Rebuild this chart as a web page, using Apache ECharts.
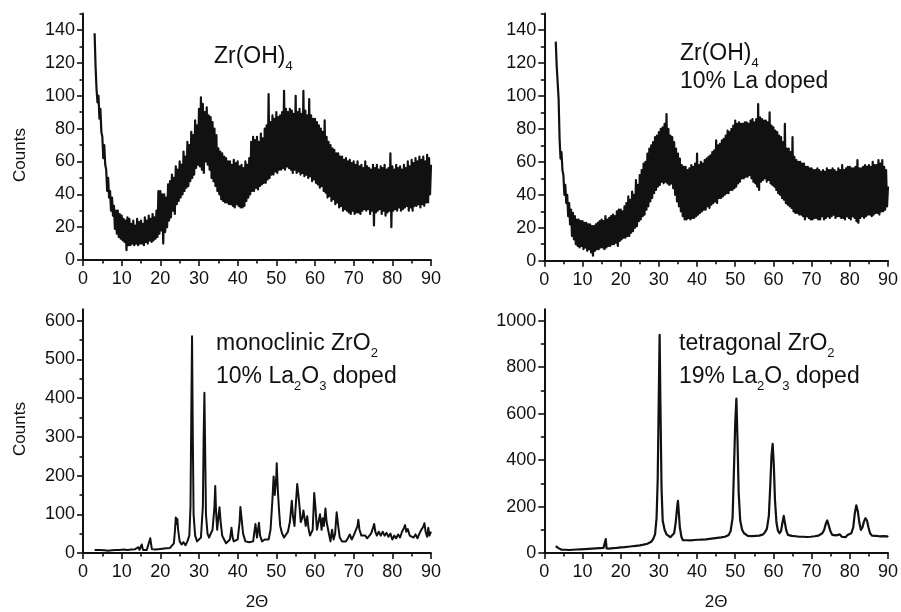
<!DOCTYPE html>
<html>
<head>
<meta charset="utf-8">
<script src="https://cdn.jsdelivr.net/npm/echarts@6/dist/echarts.min.js"></script>
<style>
  html, body { margin: 0; padding: 0; background: #fff; }
  #chart { width: 901px; height: 612px; }
</style>
</head>
<body>
<div id="chart"></div>
<script>
// Powder XRD scans (counts vs 2-theta).
// The two hydroxide scans were recorded on a fixed 0.25 degree step from 3 degrees.
const TWO_THETA_START = 3;
const TWO_THETA_STEP = 0.25;

// Zr(OH)4
const countsZrOH4 = [
  138,118,104,96,  100,86,92,78,  75,62,70,58,  55,42,50,38,  42,30,38,27,
  33,19,30,16,  30,14,28,13,  27,12,25,11,  24,6,26,9,  25,9,22,10,
  24,9,21,10,  25,9,23,10,  24,10,22,9,  26,11,24,10,  27,12,25,11,
  28,12,26,13,  30,14,42,16,  42,18,40,10,  40,17,38,20,  46,24,48,26,
  52,30,50,28,  57,34,55,36,  60,38,58,40,  66,42,63,44,  72,45,70,48,
  78,50,76,52,  85,56,82,58,  92,57,99,55,  95,53,90,60,  93,58,88,55,
  87,50,84,48,  80,45,76,42,  68,40,66,37,  65,36,63,35,  62,35,60,34,
  60,34,58,33,  61,32,59,34,  60,33,57,32,  58,32,56,33,  60,36,58,38,
  62,40,72,42,  75,42,73,44,  75,43,72,45,  77,46,74,47,  80,47,82,49,
  101,50,84,52,  88,52,86,54,  90,53,87,55,  88,55,90,56,  103,55,92,57,
  90,56,92,55,  91,53,89,55,  100,53,90,54,  92,52,89,53,  103,51,91,52,
  88,50,98,51,  88,48,86,49,  86,47,84,46,  82,44,80,45,  78,42,85,41,
  75,38,72,39,  70,36,68,37,  67,34,65,35,  65,32,63,33,  63,30,61,31,
  62,30,60,29,  61,28,59,30,  60,28,58,29,  60,29,57,28,  58,30,56,31,
  60,30,57,31,  56,28,55,30,  58,21,56,29,  58,30,55,31,  57,28,56,30,
  58,27,55,29,  56,30,65,20,  57,30,55,31,  58,30,56,32,  57,30,55,31,
  58,32,56,33,  60,30,57,32,  61,30,59,33,  62,33,60,34,  63,32,61,34,
  63,33,60,35,  64,35,62,40,
  58
];

// Zr(OH)4, 10% La doped
const countsZrOH4La = [
  133,118,108,98,  74,62,66,55,  52,40,46,35,  40,27,35,22,  31,15,29,13,
  27,10,25,9,  25,8,24,9,  24,7,23,8,  23,6,22,7,  22,5,21,3,
  21,6,22,7,  23,7,24,8,  25,8,24,7,  27,8,25,9,  26,9,27,10,
  28,10,27,11,  30,9,31,12,  31,13,30,14,  33,14,35,15,  39,15,37,17,
  42,18,40,20,  49,21,46,24,  52,25,55,27,  59,28,60,31,  65,33,68,36,
  70,38,72,41,  75,43,76,45,  78,46,80,48,  81,47,83,48,  89,47,80,46,
  76,47,75,44,  72,40,68,36,  65,33,62,30,  58,27,57,25,  57,25,55,26,
  56,25,58,26,  57,26,59,27,  65,28,58,29,  60,30,59,31,  61,31,62,33,
  63,32,64,34,  66,35,67,36,  73,35,70,38,  71,38,73,39,  74,40,76,41,
  79,41,78,43,  80,43,82,44,  85,45,83,47,  84,48,83,50,  83,50,84,51,
  84,51,83,52,  85,50,86,48,  84,47,86,45,  95,43,87,48,  86,49,85,50,
  85,48,84,49,  90,47,82,46,  81,45,79,43,  78,41,76,40,  75,38,72,37,
  83,35,68,34,  68,33,66,32,  75,30,63,29,  61,29,60,28,  60,28,59,27,
  59,25,57,27,  57,26,56,25,  56,25,55,26,  55,26,56,25,  55,25,54,27,
  55,25,54,26,  56,27,55,26,  55,27,56,28,  55,26,54,27,  56,27,55,26,
  58,26,55,25,  56,27,57,26,  57,25,56,27,  56,26,57,24,  61,23,56,26,
  56,27,57,26,  58,27,57,28,  58,28,57,27,  60,28,58,29,  58,29,61,28,
  59,30,61,30,  57,31,55,33,
  45
];

// Monoclinic ZrO2, 10% La2O3 doped: [2-theta, counts]
const scanMonoclinic = [
  [3.0,8],[3.3,12],[3.6,8],[4.0,6],[4.5,8],[5.0,4],[5.5,7],[6.0,4],[6.5,6],[7.0,3],
  [7.5,7],[8.0,4],[8.5,8],[9.0,5],[9.5,8],[10.0,5],[10.5,9],[11.0,5],[11.5,8],[12.0,6],
  [12.5,9],[13.0,6],[13.5,10],[14.0,7],[14.3,15],[14.6,8],[15.0,10],[15.2,22],[15.5,8],[16.0,11],
  [16.5,8],[17.0,12],[17.4,38],[17.8,10],[18.0,12],[18.5,9],[19.0,13],[19.5,10],[20.0,14],[20.5,11],
  [21.0,15],[21.5,12],[22.0,16],[22.5,13],[23.0,17],[23.5,25],[23.8,60],[24.0,92],[24.2,75],[24.4,88],
  [24.6,60],[25.0,30],[25.5,22],[26.0,28],[26.5,20],[27.0,30],[27.5,45],[27.8,120],[28.0,350],[28.2,560],
  [28.4,300],[28.6,100],[29.0,45],[29.5,30],[30.0,35],[30.5,40],[31.0,120],[31.2,300],[31.4,414],[31.6,260],
  [31.8,100],[32.2,50],[32.6,40],[33.0,45],[33.5,60],[34.0,120],[34.2,173],[34.4,110],[34.7,60],[35.0,90],
  [35.3,118],[35.6,80],[36.0,45],[36.5,35],[37.0,25],[37.5,30],[38.0,35],[38.4,65],[38.7,40],[39.0,30],
  [39.5,25],[40.0,35],[40.5,80],[40.7,119],[41.0,90],[41.4,50],[42.0,30],[42.5,25],[43.0,28],[43.5,24],
  [44.0,30],[44.6,75],[45.0,40],[45.5,78],[45.8,45],[46.3,30],[47.0,35],[47.5,40],[48.0,35],[48.5,60],
  [49.0,140],[49.3,198],[49.6,150],[50.0,200],[50.1,232],[50.4,160],[50.7,110],[51.0,70],[51.5,50],[52.0,40],
  [52.5,45],[53.0,55],[53.5,80],[54.0,135],[54.3,95],[54.7,70],[55.0,120],[55.4,178],[55.7,150],[56.0,120],
  [56.3,80],[56.7,90],[57.0,110],[57.3,105],[57.6,70],[58.0,95],[58.3,65],[58.7,45],[59.0,40],[59.4,60],
  [59.8,155],[60.1,120],[60.5,60],[60.9,80],[61.3,100],[61.7,60],[62.0,90],[62.3,70],[62.7,115],[63.0,80],
  [63.5,55],[64.0,30],[64.4,60],[64.8,35],[65.2,50],[65.6,105],[66.0,70],[66.4,40],[67.0,30],[67.5,35],
  [68.0,30],[68.5,38],[69.0,48],[69.5,35],[70.0,45],[70.5,40],[71.0,70],[71.2,86],[71.5,60],[72.0,45],
  [72.5,40],[73.0,45],[73.5,38],[74.0,42],[74.5,50],[75.0,65],[75.3,75],[75.6,55],[76.0,45],[76.5,55],
  [77.0,45],[77.5,55],[78.0,45],[78.5,52],[79.0,42],[79.5,50],[80.0,35],[80.5,45],[81.0,38],[81.5,48],
  [82.0,40],[82.5,55],[83.0,65],[83.3,72],[83.6,55],[84.0,62],[84.5,45],[85.0,50],[85.5,40],[86.0,48],
  [86.5,38],[87.0,50],[87.5,60],[88.0,68],[88.3,77],[88.6,55],[89.0,42],[89.3,65],[89.6,45],[90.0,55]
];

// Tetragonal ZrO2, 19% La2O3 doped: [2-theta, counts]
const scanTetragonal = [
  [3.0,30],[3.3,25],[3.6,22],[4.0,18],[4.5,14],[5.0,10],[5.5,14],[6.0,8],[6.5,13],[7.0,9],
  [7.5,14],[8.0,10],[8.5,15],[9.0,11],[9.5,16],[10.0,12],[10.5,17],[11.0,13],[11.5,18],[12.0,14],
  [12.5,19],[13.0,15],[13.5,20],[14.0,16],[14.5,21],[15.0,17],[15.5,22],[15.9,18],[16.1,60],[16.3,20],
  [16.7,24],[17.0,19],[17.5,25],[18.0,21],[18.5,27],[19.0,22],[19.5,28],[20.0,24],[20.5,30],[21.0,25],
  [21.5,31],[22.0,27],[22.5,33],[23.0,29],[23.5,35],[24.0,31],[24.5,37],[25.0,33],[25.5,40],[26.0,36],
  [26.5,43],[27.0,40],[27.5,48],[28.0,48],[28.5,60],[29.0,80],[29.4,150],[29.7,320],[30.0,700],[30.2,940],
  [30.4,650],[30.7,280],[31.0,140],[31.5,100],[32.0,80],[32.5,72],[33.0,68],[33.5,72],[34.0,85],[34.4,130],
  [34.8,200],[35.0,225],[35.2,180],[35.5,110],[35.9,70],[36.3,55],[36.8,50],[37.3,55],[37.8,48],[38.3,54],
  [38.8,49],[39.3,56],[39.8,50],[40.3,57],[40.8,51],[41.3,58],[41.8,52],[42.3,59],[42.8,54],[43.3,61],
  [43.8,56],[44.3,63],[44.8,58],[45.3,65],[45.8,60],[46.3,67],[46.8,62],[47.3,70],[47.8,68],[48.3,78],
  [48.8,95],[49.3,150],[49.7,380],[50.0,560],[50.3,665],[50.6,480],[50.9,260],[51.3,140],[51.8,100],[52.3,85],
  [52.8,80],[53.3,74],[53.8,80],[54.3,73],[54.8,79],[55.3,74],[55.8,80],[56.3,75],[56.8,82],[57.3,80],
  [57.8,90],[58.3,105],[58.8,160],[59.2,300],[59.5,420],[59.8,470],[60.1,380],[60.4,230],[60.8,130],[61.2,95],
  [61.6,85],[62.0,95],[62.3,125],[62.7,160],[63.0,130],[63.4,95],[63.8,78],[64.3,70],[64.8,74],[65.3,66],
  [65.8,72],[66.3,64],[66.8,70],[67.3,63],[67.8,70],[68.3,62],[68.8,69],[69.3,63],[69.8,70],[70.3,64],
  [70.8,72],[71.3,66],[71.8,75],[72.3,72],[72.8,85],[73.3,100],[73.7,125],[74.1,140],[74.5,118],[74.9,95],
  [75.4,78],[75.9,70],[76.4,76],[76.9,68],[77.4,80],[77.9,70],[78.4,75],[78.9,68],[79.4,78],[79.9,72],
  [80.4,85],[80.9,110],[81.3,170],[81.7,205],[82.1,180],[82.5,130],[82.9,100],[83.3,110],[83.7,135],[84.1,150],
  [84.5,140],[84.9,110],[85.3,85],[85.8,75],[86.3,68],[86.8,74],[87.3,66],[87.8,72],[88.3,65],[88.8,73],
  [89.3,66],[89.8,72],[90.0,68]
];

// Axis ticks
const yMajorHydroxide = [0, 20, 40, 60, 80, 100, 120, 140];
const yMinorHydroxide = [10, 30, 50, 70, 90, 110, 130, 150];
const yMajorMonoclinic = [0, 100, 200, 300, 400, 500, 600];
const yMinorMonoclinic = [50, 150, 250, 350, 450, 550];
const yMajorTetragonal = [0, 200, 400, 600, 800, 1000];
const yMinorTetragonal = [100, 300, 500, 700, 900];

const INK = '#111111';
const FONT = '"Liberation Sans", Arial, Helvetica, sans-serif';

function onStep(counts) {
  return counts.map((c, i) => [TWO_THETA_START + i * TWO_THETA_STEP, c]);
}

const panels = [
  { grid: { left: 83, top: 13.6, width: 348, height: 246.4 }, yMax: 150,
    major: yMajorHydroxide, minor: yMinorHydroxide, data: onStep(countsZrOH4), width: 2.2, bottomRow: false },
  { grid: { left: 544.3, top: 13.6, width: 348.4, height: 247.1 }, yMax: 150,
    major: yMajorHydroxide, minor: yMinorHydroxide, data: onStep(countsZrOH4La), width: 2.2, bottomRow: false },
  { grid: { left: 83, top: 309.2, width: 348, height: 246.8 }, yMax: 630,
    major: yMajorMonoclinic, minor: yMinorMonoclinic, data: scanMonoclinic, width: 2, bottomRow: true },
  { grid: { left: 544.3, top: 309.2, width: 348.4, height: 247.5 }, yMax: 1050,
    major: yMajorTetragonal, minor: yMinorTetragonal, data: scanTetragonal, width: 2.2, bottomRow: true }
];

const axisLine = { show: true, onZero: false, lineStyle: { color: INK, width: 2 } };
const tickLine = { color: INK, width: 1.6 };
const labelStyle = { color: INK, fontSize: 18, fontFamily: FONT, formatter: v => String(v) };

const option = {
  animation: false,
  backgroundColor: '#ffffff',
  grid: panels.map(p => Object.assign({ containLabel: false }, p.grid)),
  xAxis: panels.map((p, i) => ({
    type: 'value', gridIndex: i, min: 0, max: 90, interval: 10,
    axisLine: axisLine,
    axisTick: { show: true, inside: false, length: 6, lineStyle: tickLine },
    minorTick: { show: true, splitNumber: 2, length: 3.5, lineStyle: tickLine },
    axisLabel: Object.assign({ margin: 10 }, labelStyle),
    splitLine: { show: false }, minorSplitLine: { show: false },
    name: p.bottomRow ? '2Θ' : '',
    nameLocation: 'middle', nameGap: 41,
    nameTextStyle: { color: INK, fontSize: 17, fontFamily: FONT }
  })),
  yAxis: panels.flatMap((p, i) => [
    {
      type: 'value', gridIndex: i, min: 0, max: p.yMax, position: 'left',
      axisLine: axisLine,
      axisTick: { show: true, inside: false, length: 6, customValues: p.major, lineStyle: tickLine },
      axisLabel: Object.assign({ margin: 8, customValues: p.major }, labelStyle),
      splitLine: { show: false }
    },
    {
      type: 'value', gridIndex: i, min: 0, max: p.yMax, position: 'left', offset: 0,
      axisLine: { show: false },
      axisTick: { show: true, inside: false, length: 3.5, customValues: p.minor, lineStyle: tickLine },
      axisLabel: { show: false },
      splitLine: { show: false }
    }
  ]),
  series: panels.map((p, i) => ({
    type: 'line', xAxisIndex: i, yAxisIndex: i * 2,
    data: p.data, showSymbol: false, symbol: 'none', sampling: null,
    lineStyle: { color: INK, width: p.width, join: 'round' },
    silent: true
  })),
  graphic: [
    { type: 'text', x: 20, y: 155, rotation: Math.PI / 2,
      style: { text: 'Counts', align: 'center', verticalAlign: 'middle', fill: INK, fontSize: 17, fontFamily: FONT } },
    { type: 'text', x: 20, y: 429, rotation: Math.PI / 2,
      style: { text: 'Counts', align: 'center', verticalAlign: 'middle', fill: INK, fontSize: 17, fontFamily: FONT } },
    annotation(214, 40.5, 'Zr(OH){sub|4}'),
    annotation(680, 37.5, 'Zr(OH){sub|4}'),
    annotation(680, 66, '10% La doped'),
    annotation(216, 327.7, 'monoclinic ZrO{sub|2}'),
    annotation(216, 361, '10% La{sub|2}O{sub|3} doped'),
    annotation(679, 327.7, 'tetragonal ZrO{sub|2}'),
    annotation(679, 361, '19% La{sub|2}O{sub|3} doped')
  ]
};

function annotation(left, top, text) {
  return {
    type: 'text', left: left, top: top,
    style: {
      text: text, fill: INK, fontSize: 23, fontFamily: FONT, lineHeight: 32,
      rich: { sub: { fontSize: 13, lineHeight: 13, fontFamily: FONT, fill: INK, verticalAlign: 'bottom' } }
    }
  };
}

const chart = echarts.init(document.getElementById('chart'), null, { renderer: 'canvas' });
chart.setOption(option);
</script>
</body>
</html>
